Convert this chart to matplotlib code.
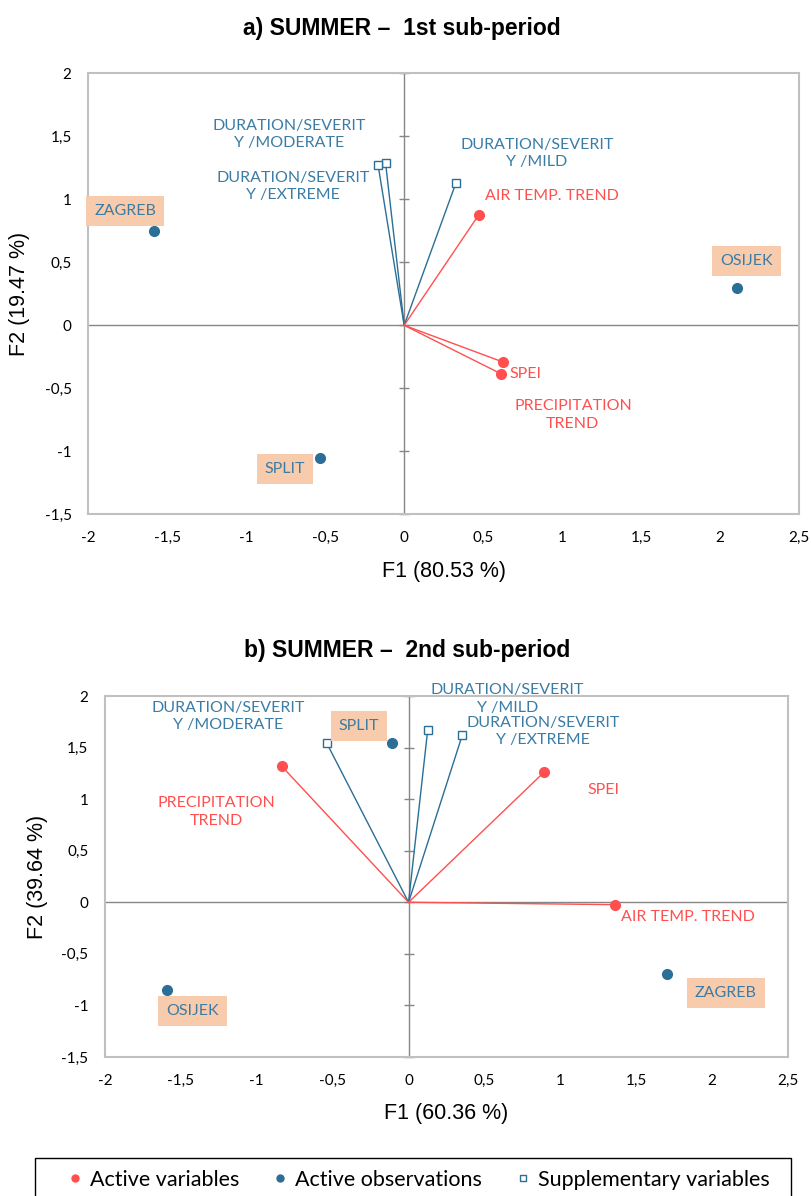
import matplotlib.pyplot as plt
from matplotlib.patches import Rectangle
from matplotlib.lines import Line2D

# --- colours / fonts ---
RED = '#FF4F4F'
BLUE = '#2B6E96'
TXT_BLUE = '#3A7CA5'
BOX = '#F8CBAD'
AXIS_GRAY = '#868686'
FRAME_GRAY = '#C0C0C0'
LBL_FONT = ['Lato', 'DejaVu Sans']
ARIAL = ['Liberation Sans', 'DejaVu Sans']

# --- data ---
x_ticks = [-2, -1.5, -1, -0.5, 0, 0.5, 1, 1.5, 2, 2.5]
x_tick_labels = ['-2', '-1,5', '-1', '-0,5', '0', '0,5', '1', '1,5', '2', '2,5']
y_ticks = [-1.5, -1, -0.5, 0, 0.5, 1, 1.5, 2]
y_tick_labels = ['-1,5', '-1', '-0,5', '0', '0,5', '1', '1,5', '2']

# a) 1st sub-period
a_var_names = ['AIR TEMP. TREND', 'SPEI', 'PRECIPITATION\nTREND']
a_var_f1 = [0.473, 0.612, 0.625]
a_var_f2 = [0.878, -0.384, -0.291]
a_obs_names = ['ZAGREB', 'OSIJEK', 'SPLIT']
a_obs_f1 = [-1.584, 2.11, -0.532]
a_obs_f2 = [0.75, 0.296, -1.053]
a_sup_names = ['DURATION/SEVERIT\nY /MILD', 'DURATION/SEVERIT\nY /MODERATE',
               'DURATION/SEVERIT\nY /EXTREME']
a_sup_f1 = [0.327, -0.118, -0.165]
a_sup_f2 = [1.127, 1.29, 1.27]

# b) 2nd sub-period
b_var_names = ['AIR TEMP. TREND', 'SPEI', 'PRECIPITATION\nTREND']
b_var_f1 = [1.362, 0.894, -0.836]
b_var_f2 = [-0.023, 1.263, 1.32]
b_obs_names = ['ZAGREB', 'OSIJEK', 'SPLIT']
b_obs_f1 = [1.70, -1.59, -0.11]
b_obs_f2 = [-0.695, -0.85, 1.54]
b_sup_names = ['DURATION/SEVERIT\nY /MILD', 'DURATION/SEVERIT\nY /MODERATE',
               'DURATION/SEVERIT\nY /EXTREME']
b_sup_f1 = [0.126, -0.538, 0.354]
b_sup_f2 = [1.67, 1.54, 1.62]

# label offsets in pixels (dx, dy) from the point to the label centre
a_offsets = {
    'AIR TEMP. TREND': (73, 19), 'SPEI': (25, 0), 'PRECIPITATION\nTREND': (70, -53),
    'ZAGREB': (-29, 20), 'OSIJEK': (9, 27), 'SPLIT': (-35, -11),
    'DURATION/SEVERIT\nY /MILD': (81, 30), 'DURATION/SEVERIT\nY /MODERATE': (-96, 28),
    'DURATION/SEVERIT\nY /EXTREME': (-85, -21),
}
b_offsets = {
    'AIR TEMP. TREND': (73, -12), 'SPEI': (59, -18), 'PRECIPITATION\nTREND': (-65, -46),
    'ZAGREB': (59, -19), 'OSIJEK': (25, -21), 'SPLIT': (-33, 17),
    'DURATION/SEVERIT\nY /MILD': (80, 31), 'DURATION/SEVERIT\nY /MODERATE': (-99, 27),
    'DURATION/SEVERIT\nY /EXTREME': (81, 4),
}


def label(ax, name, x, y, off, color, boxed=False):
    kw = dict(xy=(x, y), xytext=off, textcoords='offset pixels', ha='center',
              va='center', color=color, fontsize=11.5, family=LBL_FONT,
              linespacing=1.3, zorder=6)
    if boxed:
        kw['bbox'] = dict(boxstyle='square,pad=0.5', fc=BOX, ec='none')
    ax.annotate(name, **kw)


def draw_panel(ax, var, obs, sup, offsets, xlab, ylab):
    ax.set_xlim(-2, 2.5)
    ax.set_ylim(-1.5, 2)
    for s in ax.spines.values():
        s.set_color(FRAME_GRAY)
        s.set_linewidth(1.5)
    ax.axhline(0, color=AXIS_GRAY, lw=1, zorder=1)
    ax.axvline(0, color=AXIS_GRAY, lw=1, zorder=1)
    ax.plot([0] * len(y_ticks), y_ticks, ls='none', marker='_', ms=7,
            color=AXIS_GRAY, mew=1, zorder=1, clip_on=False)
    ax.set_xticks(x_ticks, x_tick_labels)
    ax.set_yticks(y_ticks, y_tick_labels)
    ax.tick_params(length=0, labelsize=11, pad=12)
    for t in ax.get_xticklabels() + ax.get_yticklabels():
        t.set_family(LBL_FONT)

    names, f1, f2 = sup
    for n, x, y in zip(names, f1, f2):
        ax.plot([0, x], [0, y], color=BLUE, lw=1, zorder=2)
        ax.plot(x, y, marker='s', ms=6, mfc='white', mec=BLUE, mew=1, zorder=4)
        label(ax, n, x, y, offsets[n], TXT_BLUE)
    names, f1, f2 = var
    for n, x, y in zip(names, f1, f2):
        ax.plot([0, x], [0, y], color=RED, lw=1, zorder=3)
        ax.plot(x, y, marker='o', ms=7, color=RED, zorder=4)
        label(ax, n, x, y, offsets[n], RED)
    names, f1, f2 = obs
    for n, x, y in zip(names, f1, f2):
        ax.plot(x, y, marker='o', ms=7, color=BLUE, zorder=4)
        label(ax, n, x, y, offsets[n], TXT_BLUE, boxed=True)

    ax.set_xlabel(xlab, fontsize=15.5, family=ARIAL)
    ax.set_ylabel(ylab, fontsize=15.5, family=ARIAL)


fig = plt.figure(figsize=(8.12, 11.96), dpi=100)
W, H = 812, 1196

ax1 = fig.add_axes([88.3 / W, 1 - 514.3 / H, (799 - 88.3) / W, (514.3 - 73.3) / H])
draw_panel(ax1, (a_var_names, a_var_f1, a_var_f2), (a_obs_names, a_obs_f1, a_obs_f2),
           (a_sup_names, a_sup_f1, a_sup_f2), a_offsets, 'F1 (80.53 %)', 'F2 (19.47 %)')
ax1.xaxis.set_label_coords(0.5, -(572 - 514.3) / 441)
ax1.xaxis.label.set_va('center')
ax1.yaxis.set_label_coords(-(88.3 - 20) / 710.7, 0.5)
ax1.yaxis.label.set_va('center')

ax2 = fig.add_axes([105 / W, 1 - 1057 / H, (788 - 105) / W, (1057 - 696) / H])
draw_panel(ax2, (b_var_names, b_var_f1, b_var_f2), (b_obs_names, b_obs_f1, b_obs_f2),
           (b_sup_names, b_sup_f1, b_sup_f2), b_offsets, 'F1 (60.36 %)', 'F2 (39.64 %)')
ax2.xaxis.set_label_coords(0.5, -(1113 - 1057) / 361)
ax2.xaxis.label.set_va('center')
ax2.yaxis.set_label_coords(-(105 - 38) / 683, 0.5)
ax2.yaxis.label.set_va('center')

fig.text(402 / W, 1 - 28 / H, 'a) SUMMER \u2013  1st sub-period', ha='center', va='center',
         fontsize=16.5, fontweight='bold', family=ARIAL)
fig.text(407 / W, 1 - 650 / H, 'b) SUMMER \u2013  2nd sub-period', ha='center', va='center',
         fontsize=16.5, fontweight='bold', family=ARIAL)

# legend
handles = [
    Line2D([], [], ls='none', marker='o', ms=5, color=RED),
    Line2D([], [], ls='none', marker='o', ms=5, color=BLUE),
    Line2D([], [], ls='none', marker='s', ms=5, mfc='white', mec=BLUE),
]
fig.legend(handles, ['Active variables', 'Active observations', 'Supplementary variables'],
           loc='center', bbox_to_anchor=(419 / W, 1 - 1180 / H), ncol=3, frameon=False,
           prop={'family': LBL_FONT, 'size': 15.5}, handlelength=0.6, handletextpad=0.4,
           columnspacing=1.6)
fig.patches.append(Rectangle((35 / W, -0.01), (791 - 35) / W, 0.01 + (H - 1158) / H,
                             transform=fig.transFigure, fill=False, ec='black', lw=1))

fig.savefig('out.png', dpi=100)
